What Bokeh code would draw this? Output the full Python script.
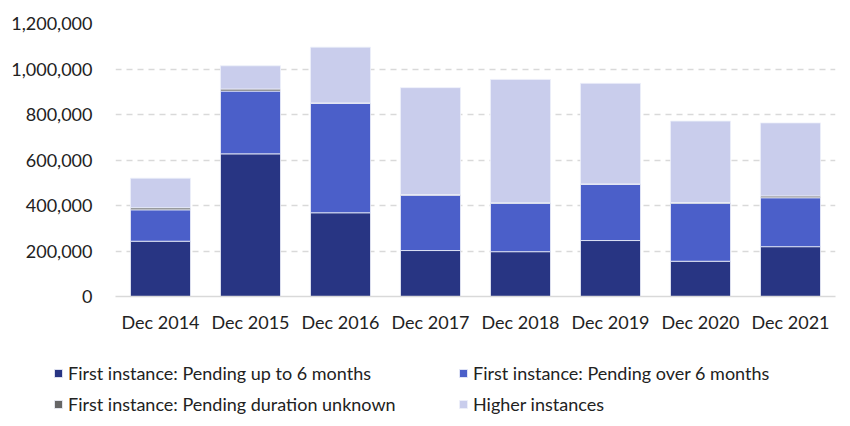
from bokeh.plotting import figure
from bokeh.layouts import column, row
from bokeh.models import ColumnDataSource, Legend, LegendItem, NumeralTickFormatter, FixedTicker, Range1d
from bokeh.embed import file_html
from bokeh.resources import INLINE

years = ["Dec 2014", "Dec 2015", "Dec 2016", "Dec 2017", "Dec 2018", "Dec 2019", "Dec 2020", "Dec 2021"]
up_to_6 = [243000, 627000, 368000, 202000, 197000, 246000, 155000, 219000]
over_6 = [138000, 276000, 481000, 243000, 213000, 247000, 255000, 215000]
unknown = [9000, 9000, 2000, 3000, 2000, 2000, 3000, 8000]
higher = [130000, 102000, 245000, 470000, 542000, 442000, 358000, 321000]

series = ["up_to_6", "over_6", "unknown", "higher"]
labels = ["First instance: Pending up to 6 months", "First instance: Pending over 6 months",
          "First instance: Pending duration unknown", "Higher instances"]
colors = ["#283583", "#4b5fc9", "#666666", "#c9cdec"]

source = ColumnDataSource(dict(years=years, up_to_6=up_to_6, over_6=over_6, unknown=unknown, higher=higher))

FONT = "Lato"
FS = "18px"

p = figure(x_range=years, y_range=(0, 1200000), width=842, height=340,
           output_backend="svg", toolbar_location=None,
           min_border_left=115, min_border_right=7, min_border_top=23, min_border_bottom=44)

renderers = p.vbar_stack(series, x="years", width=0.667, color=colors, source=source,
                         line_color="#eef0fa", line_width=0.8)

p.outline_line_color = None
p.xgrid.grid_line_color = None
p.ygrid.grid_line_color = "#d9d9d9"
p.ygrid.grid_line_dash = "6 5"
p.ygrid.grid_line_width = 1.3

p.yaxis.ticker = FixedTicker(ticks=[0, 200000, 400000, 600000, 800000, 1000000, 1200000])
p.yaxis.formatter = NumeralTickFormatter(format="0,0")
p.yaxis.axis_line_color = None
p.yaxis.major_tick_line_color = None
p.yaxis.minor_tick_line_color = None
p.yaxis.major_label_standoff = 17
p.xaxis.axis_line_color = "#d9d9d9"
p.xaxis.axis_line_width = 1.5
p.xaxis.major_tick_line_color = None
p.xaxis.minor_tick_line_color = None
p.xaxis.major_label_standoff = 8
for ax in (p.xaxis, p.yaxis):
    ax.major_label_text_font = FONT
    ax.major_label_text_font_size = FS
    ax.major_label_text_color = "#222222"

# Legend in a separate strip below the chart
lg = figure(width=842, height=78, output_backend="svg", toolbar_location=None,
            x_range=Range1d(0, 1), y_range=Range1d(0, 1),
            min_border_left=0, min_border_right=0, min_border_top=0, min_border_bottom=0)
lg.axis.visible = False
lg.grid.visible = False
lg.outline_line_color = None
legend_rs = [lg.vbar(x=[-5], top=[0], width=0.5, color=c, line_color="#eef0fa", line_width=0.8) for c in colors]
order = [0, 2, 1, 3]  # column-major fill -> rows: (up to 6, over 6), (unknown, higher)
items = [LegendItem(label=labels[i], renderers=[legend_rs[i]]) for i in order]
legend = Legend(items=items, ncols=2, location=(53, 3),
                label_text_font=FONT, label_text_font_size=FS, label_text_color="#222222",
                glyph_width=10, glyph_height=10, label_standoff=5, label_height=20, label_width=381,
                spacing=9, padding=0, margin=0, border_line_color=None, background_fill_alpha=0)
lg.add_layout(legend, "center")

layout = column(p, row(lg), spacing=0)
open("out.html", "w").write(file_html(layout, INLINE))
